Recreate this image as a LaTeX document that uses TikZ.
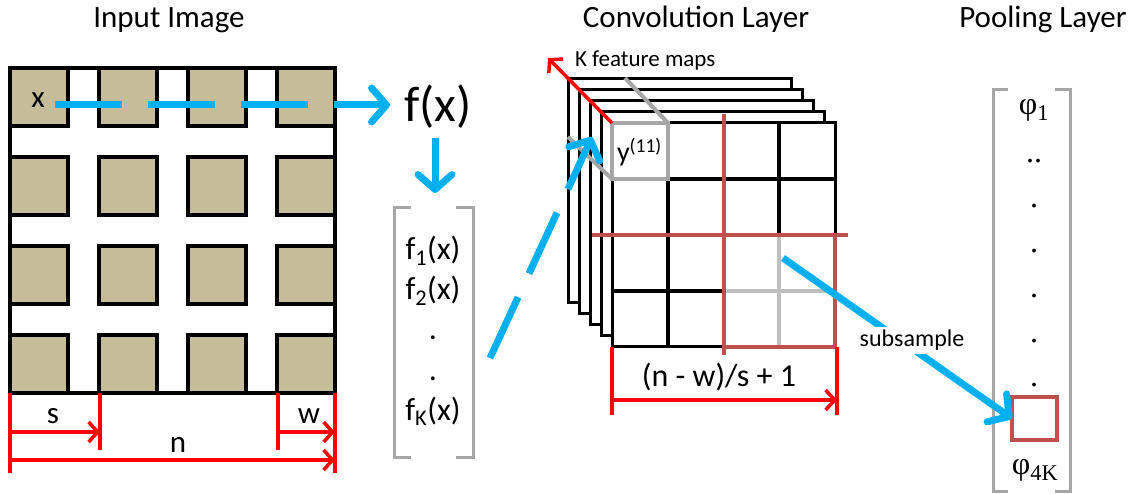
\documentclass[tikz,border=0pt]{standalone}
\usepackage{fontspec}
\setmainfont{Carlito}
\newfontfamily\phifont{Liberation Serif}
\usetikzlibrary{arrows.meta,positioning,calc}
\definecolor{tanc}{RGB}{197,189,153}
\definecolor{skyc}{RGB}{0,176,240}
\definecolor{brickc}{RGB}{192,80,77}
\definecolor{grayc}{RGB}{166,166,166}
\definecolor{lgrayc}{RGB}{191,191,191}
\newcommand{\fs}[1]{\fontsize{#1}{#1}\selectfont}

\begin{document}
\begin{tikzpicture}[x=1pt,y=-1pt,
  every node/.style={inner sep=0pt,outer sep=0pt},
  ttl/.style={font=\fs{31},anchor=base},
  lbl/.style={font=\fs{31},anchor=base},
  vec/.style={font=\fs{32},anchor=base},
  phi/.style={font=\phifont\fs{32}},
  tan/.style={draw,line width=3.5pt,fill=tanc},
  fmap/.style={draw,line width=3pt,fill=white},
  blu/.style={draw=skyc,line width=7pt,-{Straight Barb[length=15pt,width=34pt,round]}},
  dsh/.style={dash pattern=on 67pt off 26pt},
  dim/.style={draw=red,line width=3.5pt},
  dimarr/.style={dim,-{Straight Barb[length=9pt,width=20pt]}},
  brk/.style={draw=grayc,line width=3pt},
  pool/.style={draw=brickc,line width=4.5pt}]
\useasboundingbox (0,0) rectangle (1133,494);

% titles
\node[ttl] (tin) at (169,28) {Input Image};
\node[ttl] (tconv) at (696,28) {Convolution Layer};
\node[ttl] (tpool) at (1043,28) {Pooling Layer};

% input image
\foreach \i in {0,...,3}
  \foreach \j in {0,...,3}
    \draw[tan] ({10+89*\i},{68+89*\j}) rectangle ++(58,58);
\draw[line width=3.5pt] (10,68) rectangle (335,393);
\node[lbl] (xlab) at (38,108) {x};

% s, w, n
\draw[dim] (10,393) -- (10,473);
\draw[dim] (100,393) -- (100,450);
\draw[dim] (278,393) -- (278,450);
\draw[dim] (335,393) -- (335,473);
\coordinate (s0) at (10,432);
\coordinate (s1) at (100,432);
\coordinate (w0) at (278,432);
\coordinate (w1) at (335,432);
\coordinate (n0) at (10,460);
\coordinate (n1) at (335,460);
\draw[dimarr] (s0) -- (s1);
\draw[dimarr] (w0) -- (w1);
\draw[dimarr] (n0) -- (n1);
\node[lbl] (slab) at (53,423) {s};
\node[lbl] (wlab) at (309,423) {w};
\node[lbl] (nlab) at (178,452) {n};

% f(x) and feature vector
\node[font=\fs{50},anchor=base] (fx) at (438,122) {f(x)};
\coordinate (xs) at (55,105);
\coordinate (fxin) at (390,105);
\draw[blu,dsh] (xs) -- (fxin);
\coordinate (fxd0) at (435,138);
\coordinate (fxd1) at (435,193);
\draw[blu] (fxd0) -- (fxd1);
\draw[brk] (411,208) -| (394,457) -- (411,457);
\draw[brk] (456,208) -| (473,457) -- (456,457);
\node[vec] (f1) at (433,260) {f\textsubscript{1}(x)};
\node[vec] (f2) at (433,300) {f\textsubscript{2}(x)};
\node[vec] (dt1) at (433,340) {.};
\node[vec] (dt2) at (433,381) {.};
\node[vec] (fk) at (433,420) {f\textsubscript{K}(x)};

% convolution layer
\foreach \k in {4,...,1}
  \draw[fmap] ({612-11*\k},{123-11*\k}) rectangle ++(223,224);
\draw[fmap] (612,123) rectangle (835,347);
\foreach \c in {668,724,779}
  \draw[line width=3.5pt] (\c,123) -- (\c,347);
\foreach \r in {179,235,291}
  \draw[line width=3.5pt] (612,\r) -- (835,\r);
\draw[draw=lgrayc,line width=4pt] (779,237) -- (779,347);
\draw[draw=lgrayc,line width=4pt] (724,291) -- (835,291);
\draw[pool] (592,235) -- (848,235);
\draw[pool] (724,114) -- (724,355);
\draw[pool] (835,235) -- (835,347) -- (724,347);
\draw[brk,line width=4pt] (612,123) rectangle (668,179);
\draw[brk,line width=4pt] (668,123) -- (625,78);
\draw[brk,line width=4pt] (612,179) -- (568,137);
\node[font=\fs{28},anchor=base west] (y11) at (617,162) {y\textsuperscript{(11)}};
\coordinate (kc) at (612,123);
\coordinate (kt) at (548,58);
\draw[dimarr] (kc) -- (kt);
\node[font=\fs{23},anchor=base west] (kfm) at (575,67) {K feature maps};
\coordinate (vecout) at (490,358);
\coordinate (convin) at (592,137);
\draw[blu,dsh] (vecout) -- (convin);
\draw[dim] (612,347) -- (612,415);
\draw[dim] (837,347) -- (837,415);
\coordinate (c0) at (612,400);
\coordinate (c1) at (837,400);
\draw[dimarr] (c0) -- (c1);
\node[font=\fs{32},anchor=base] (clab) at (719,387) {(n - w)/s + 1};

% pooling layer
\draw[brk] (1008,90) -| (993,491) -- (1008,491);
\draw[brk] (1055,90) -| (1070,491) -- (1055,491);
\node[phi] (p1) at (1034,110) {φ\textsubscript{1}};
\node[phi,anchor=base] (pd0) at (1034,163) {..};
\foreach \y [count=\n] in {208,253,298,343,386}
  \node[phi,anchor=base] (pd\n) at (1034,\y) {.};
\node[pool,minimum width=45pt,minimum height=43pt] (pbox) at (1034.5,418.5) {};
\node[phi] (pk) at (1035,470) {φ\textsubscript{4K}};
\coordinate (sub0) at (783,258);
\draw[blu] (sub0) -- (pbox.west);
\node[font=\fs{24},anchor=base,fill=white,inner sep=3pt] (sublab) at (912,347) {subsample};
\end{tikzpicture}
\end{document}
